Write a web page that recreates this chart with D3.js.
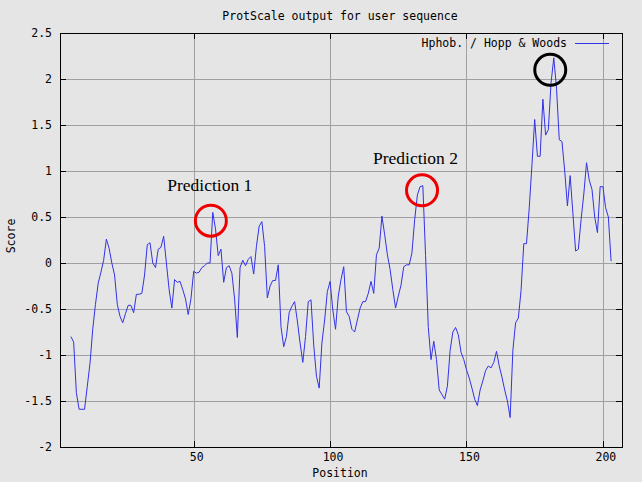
<!DOCTYPE html>
<html>
<head>
<meta charset="utf-8">
<script src="https://cdn.jsdelivr.net/npm/d3@7"></script>
<style>
  html, body { margin: 0; padding: 0; background: #e5e5e5; }
  svg { display: block; }
  .mono { font-family: "DejaVu Sans Mono", "Liberation Mono", monospace; font-size: 11.5px; fill: #000; }
</style>
</head>
<body>
<svg id="chart" width="642" height="482"></svg>
<script>
// ---- Data ----
const title = "ProtScale output for user sequence";
const seriesName = "Hphob. / Hopp & Woods";
const xLabel = "Position";
const yLabel = "Score";
const startPosition = 5;
const scores = [
  -0.80, -0.86, -1.41, -1.59, -1.59, -1.59, -1.34, -1.09, -0.72, -0.45,
  -0.22, -0.10, 0.03, 0.26, 0.16, 0.00, -0.13, -0.45, -0.58, -0.65,
  -0.55, -0.46, -0.46, -0.54, -0.34, -0.34, -0.33, -0.13, 0.20, 0.22,
  0.00, -0.05, 0.15, 0.17, 0.29, 0.00, -0.29, -0.49, -0.18, -0.21,
  -0.20, -0.29, -0.39, -0.56, -0.39, -0.09, -0.11, -0.10, -0.05, -0.03,
  0.00, 0.00, 0.55, 0.37, 0.08, 0.15, -0.21, -0.05, -0.03, -0.11,
  -0.39, -0.81, -0.05, 0.03, -0.03, 0.04, 0.07, -0.12, 0.18, 0.40,
  0.45, 0.18, -0.38, -0.25, -0.19, -0.19, -0.02, -0.69, -0.91, -0.80,
  -0.54, -0.47, -0.42, -0.63, -0.87, -1.08, -0.80, -0.42, -0.40, -0.89,
  -1.23, -1.36, -0.87, -0.62, -0.31, -0.20, -0.51, -0.72, -0.36, -0.18,
  -0.04, -0.53, -0.58, -0.72, -0.75, -0.62, -0.49, -0.42, -0.42, -0.33,
  -0.20, -0.33, 0.09, 0.16, 0.51, 0.31, 0.09, -0.07, -0.29, -0.49,
  -0.36, -0.24, -0.04, -0.02, -0.02, 0.11, 0.47, 0.74, 0.83, 0.84,
  0.08, -0.70, -1.05, -0.85, -1.05, -1.38, -1.43, -1.48, -1.34, -0.95,
  -0.75, -0.70, -0.78, -0.97, -1.05, -1.16, -1.25, -1.36, -1.48, -1.55,
  -1.38, -1.28, -1.17, -1.12, -1.14, -1.08, -0.96, -1.12, -1.24, -1.38,
  -1.50, -1.68, -0.95, -0.65, -0.60, -0.30, 0.21, 0.21, 0.60, 1.07,
  1.56, 1.16, 1.16, 1.78, 1.39, 1.45, 1.96, 2.23, 1.90, 1.34,
  1.32, 1.00, 0.62, 0.95, 0.54, 0.13, 0.15, 0.47, 0.75, 1.09,
  0.90, 0.80, 0.50, 0.33, 0.83, 0.83, 0.60, 0.50, 0.02
];
const xTicks = [50, 100, 150, 200];
const yTicks = [-2, -1.5, -1, -0.5, 0, 0.5, 1, 1.5, 2, 2.5];
const yTickLabels = ["-2", "-1.5", "-1", "-0.5", "0", "0.5", "1", "1.5", "2", "2.5"];
const xDomain = [1, 207];
const yDomain = [-2, 2.5];
// annotations in data coordinates
const annotationLabels = ["Prediction 1", "Prediction 2"];
const annotationLabelPos = [[55.9, 0.78], [131.3, 1.08]];
const circleCenters = [[56.3, 0.46], [133.7, 0.79], [180.7, 2.10]];
const circleColors = ["#ee0000", "#ee0000", "#000000"];

// ---- Layout ----
const W = 642, H = 482;
const plot = { left: 60, right: 622, top: 33, bottom: 447 };
const lineColor = "#3232e6";

const svg = d3.select("#chart");
svg.append("rect").attr("width", W).attr("height", H).attr("fill", "#e5e5e5");

const x = d3.scaleLinear().domain(xDomain).range([plot.left, plot.right]);
const y = d3.scaleLinear().domain(yDomain).range([plot.bottom, plot.top]);

// grid lines
const grid = svg.append("g").attr("stroke", "#a0a0a0").attr("stroke-width", 1).attr("shape-rendering", "crispEdges");
yTicks.filter(t => t > yDomain[0] && t < yDomain[1]).forEach(t => {
  grid.append("line").attr("x1", plot.left).attr("x2", plot.right)
    .attr("y1", Math.round(y(t)) + 0.5).attr("y2", Math.round(y(t)) + 0.5);
});
xTicks.forEach(t => {
  grid.append("line").attr("y1", plot.top).attr("y2", plot.bottom)
    .attr("x1", Math.round(x(t)) + 0.5).attr("x2", Math.round(x(t)) + 0.5);
});

// tick marks (inward, all four sides)
const ticks = svg.append("g").attr("stroke", "#000").attr("stroke-width", 1).attr("shape-rendering", "crispEdges");
const tl = 6;
yTicks.forEach(t => {
  const yy = Math.round(y(t)) + 0.5;
  ticks.append("line").attr("x1", plot.left).attr("x2", plot.left + tl).attr("y1", yy).attr("y2", yy);
  ticks.append("line").attr("x1", plot.right - tl).attr("x2", plot.right).attr("y1", yy).attr("y2", yy);
});
xTicks.forEach(t => {
  const xx = Math.round(x(t)) + 0.5;
  ticks.append("line").attr("x1", xx).attr("x2", xx).attr("y1", plot.bottom - tl).attr("y2", plot.bottom);
  ticks.append("line").attr("x1", xx).attr("x2", xx).attr("y1", plot.top).attr("y2", plot.top + tl);
});

// frame
svg.append("rect")
  .attr("x", plot.left + 0.5).attr("y", plot.top + 0.5)
  .attr("width", plot.right - plot.left).attr("height", plot.bottom - plot.top)
  .attr("fill", "none").attr("stroke", "#000").attr("stroke-width", 1)
  .attr("shape-rendering", "crispEdges");

// axis tick labels
svg.append("g").selectAll("text").data(yTicks).join("text")
  .attr("class", "mono")
  .attr("x", 52).attr("y", d => y(d))
  .attr("dy", "0.35em")
  .attr("text-anchor", "end")
  .text((d, i) => yTickLabels[i]);

svg.append("g").selectAll("text").data(xTicks).join("text")
  .attr("class", "mono")
  .attr("x", d => x(d) + 3).attr("y", 461)
  .attr("text-anchor", "middle")
  .text(d => d);

// axis titles and title
svg.append("text").attr("class", "mono").attr("x", 340).attr("y", 477)
  .attr("text-anchor", "middle").text(xLabel);
svg.append("text").attr("class", "mono")
  .attr("transform", "translate(15,236) rotate(-90)")
  .attr("text-anchor", "middle").text(yLabel);
svg.append("text").attr("class", "mono").attr("x", 340).attr("y", 20)
  .attr("text-anchor", "middle").text(title);

// legend
svg.append("text").attr("class", "mono").attr("x", 567).attr("y", 47)
  .attr("text-anchor", "end").text(seriesName);
svg.append("line").attr("x1", 575).attr("x2", 609).attr("y1", 43.5).attr("y2", 43.5)
  .attr("stroke", lineColor).attr("stroke-width", 1);

// data line
const data = scores.map((v, i) => ({ pos: startPosition + i, score: v }));
const line = d3.line().x(d => x(d.pos)).y(d => y(d.score));
svg.append("path").datum(data)
  .attr("d", line)
  .attr("fill", "none")
  .attr("stroke", lineColor)
  .attr("stroke-width", 1);

// annotations
svg.append("g").selectAll("circle").data(circleCenters).join("circle")
  .attr("cx", d => x(d[0])).attr("cy", d => y(d[1]))
  .attr("r", 15.5)
  .attr("fill", "none")
  .attr("stroke", (d, i) => circleColors[i])
  .attr("stroke-width", 3);

svg.append("g").selectAll("text").data(annotationLabels).join("text")
  .attr("x", (d, i) => x(annotationLabelPos[i][0]))
  .attr("y", (d, i) => y(annotationLabelPos[i][1]))
  .attr("text-anchor", "middle")
  .attr("font-family", "'Liberation Serif', 'Times New Roman', serif")
  .attr("font-size", "17.5px")
  .attr("fill", "#000")
  .text(d => d);
</script>
</body>
</html>
